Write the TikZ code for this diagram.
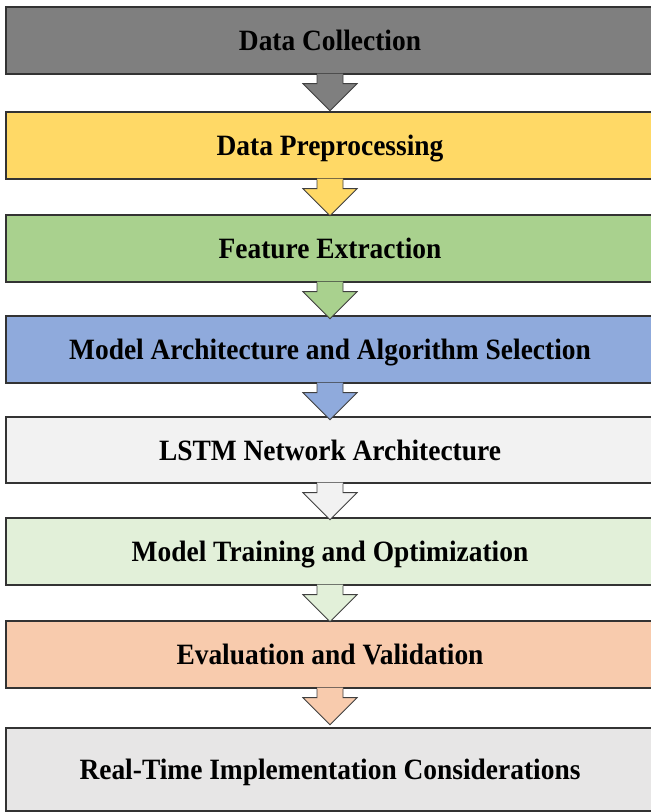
\documentclass[tikz,border=0pt]{standalone}
\usepackage{fontspec}
\setmainfont{Liberation Serif}
\newfontfamily\boxfont[FakeStretch=0.93]{Liberation Serif}
\usetikzlibrary{calc}
\definecolor{cA}{HTML}{7F7F7F}
\definecolor{cB}{HTML}{FFD966}
\definecolor{cC}{HTML}{A9D18E}
\definecolor{cD}{HTML}{8FAADC}
\definecolor{cE}{HTML}{F2F2F2}
\definecolor{cF}{HTML}{E2F0D9}
\definecolor{cG}{HTML}{F8CBAD}
\definecolor{cH}{HTML}{E7E6E6}
\definecolor{edge}{HTML}{333333}
\definecolor{aedge}{HTML}{404040}
\tikzset{
  stagebox/.style={draw=edge, line width=1.3pt, rectangle, inner sep=0pt,
    minimum width=648pt, minimum height=67pt, text height=20pt, text depth=0pt,
    font=\boxfont\bfseries\fontsize{29.5}{32}\selectfont, text=black},
  arrowline/.style={draw=aedge, line width=0.9pt, line join=miter}
}
\newcommand{\flowarrow}[3]{%
  \fill[#3] ($(#1.south)+(-13,1)$) -- ($(#1.south)+(-13,-9)$) -- ($(#1.south)+(-27,-9)$)
    -- ($(#1.south)+(0,-36)$) -- ($(#1.south)+(27,-9)$) -- ($(#1.south)+(13,-9)$)
    -- ($(#1.south)+(13,1)$) -- cycle;
  \draw[arrowline] ($(#1.south)+(-13,0)$) -- ($(#1.south)+(-13,-9)$) -- ($(#1.south)+(-27,-9)$)
    -- ($(#1.south)+(0,-36)$) -- ($(#1.south)+(27,-9)$) -- ($(#1.south)+(13,-9)$)
    -- ($(#1.south)+(13,0)$);
}
\begin{document}
\begin{tikzpicture}[x=1pt,y=1pt]
\useasboundingbox (0,0) rectangle (651,-812);
\clip (0,0) rectangle (651,-812);
\node[stagebox, fill=cA] (b1) at (330,-40.5) {Data Collection};
\node[stagebox, fill=cB] (b2) at (330,-145.5) {Data Preprocessing};
\node[stagebox, fill=cC] (b3) at (330,-248.5) {Feature Extraction};
\node[stagebox, fill=cD] (b4) at (330,-349.5) {Model Architecture and Algorithm Selection};
\node[stagebox, fill=cE, minimum height=66pt] (b5) at (330,-450) {LSTM Network Architecture};
\node[stagebox, fill=cF] (b6) at (330,-551.5) {Model Training and Optimization};
\node[stagebox, fill=cG] (b7) at (330,-654.5) {Evaluation and Validation};
\node[stagebox, fill=cH, minimum height=83pt] (b8) at (330,-769.5) {Real-Time Implementation Considerations};
\flowarrow{b1}{b2}{cA}
\flowarrow{b2}{b3}{cB}
\flowarrow{b3}{b4}{cC}
\flowarrow{b4}{b5}{cD}
\flowarrow{b5}{b6}{cE}
\flowarrow{b6}{b7}{cF}
\flowarrow{b7}{b8}{cG}
\end{tikzpicture}
\end{document}
